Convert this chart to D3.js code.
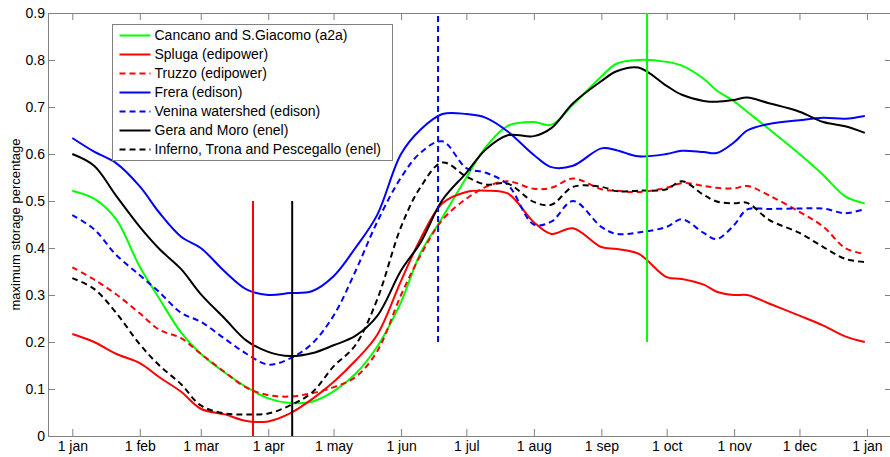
<!DOCTYPE html>
<html>
<head>
<meta charset="utf-8" />
<title>maximum storage percentage</title>
<style>
body { margin: 0; background: #fff; }
svg text { font-family: "Liberation Sans", Arial, sans-serif; }
</style>
</head>
<body>
<div id="graph"></div>
<script src="https://d3js.org/d3.v7.min.js"></script>
<script>

// day of year for each sample
var days = [0,10,20,31,40,50,59,70,80,90,100,110,120,130,140,151,160,170,181,190,200,212,220,230,243,250,260,273,280,290,296,304,310,320,334,345,355,364];

var cancano = [0.522,0.505,0.462,0.360,0.292,0.220,0.175,0.135,0.104,0.080,0.070,0.073,0.095,0.132,0.190,0.285,0.390,0.465,0.550,0.615,0.660,0.668,0.662,0.705,0.765,0.792,0.800,0.796,0.788,0.760,0.735,0.712,0.690,0.653,0.600,0.555,0.510,0.495];
var spluga  = [0.217,0.200,0.175,0.155,0.125,0.094,0.058,0.046,0.032,0.031,0.048,0.078,0.115,0.160,0.215,0.330,0.420,0.495,0.519,0.522,0.516,0.455,0.430,0.442,0.402,0.398,0.388,0.338,0.334,0.322,0.307,0.300,0.300,0.282,0.256,0.235,0.212,0.200];
var truzzo  = [0.359,0.333,0.302,0.261,0.226,0.208,0.175,0.136,0.103,0.087,0.084,0.091,0.104,0.125,0.180,0.300,0.385,0.460,0.505,0.530,0.542,0.526,0.528,0.548,0.525,0.522,0.519,0.528,0.538,0.532,0.528,0.527,0.532,0.512,0.477,0.445,0.400,0.387];
var frera   = [0.634,0.605,0.581,0.531,0.475,0.424,0.400,0.350,0.312,0.300,0.304,0.308,0.340,0.400,0.470,0.600,0.652,0.685,0.685,0.677,0.648,0.598,0.572,0.575,0.612,0.608,0.595,0.600,0.607,0.604,0.602,0.625,0.650,0.664,0.672,0.677,0.675,0.681];
var venina  = [0.470,0.440,0.386,0.342,0.306,0.262,0.243,0.207,0.175,0.152,0.165,0.196,0.256,0.350,0.455,0.550,0.603,0.627,0.570,0.560,0.535,0.450,0.456,0.500,0.445,0.430,0.433,0.445,0.461,0.432,0.419,0.449,0.482,0.483,0.484,0.484,0.474,0.483];
var gera    = [0.600,0.575,0.512,0.445,0.398,0.355,0.302,0.250,0.203,0.179,0.170,0.176,0.193,0.213,0.255,0.352,0.412,0.502,0.560,0.610,0.640,0.638,0.655,0.708,0.755,0.776,0.784,0.745,0.726,0.713,0.711,0.715,0.720,0.708,0.690,0.668,0.659,0.645];
var inferno = [0.336,0.313,0.263,0.195,0.150,0.110,0.065,0.048,0.046,0.048,0.065,0.092,0.148,0.193,0.290,0.445,0.530,0.582,0.552,0.535,0.537,0.498,0.492,0.530,0.530,0.521,0.522,0.525,0.542,0.513,0.499,0.495,0.496,0.460,0.432,0.402,0.377,0.370];

var names = ["Cancano and S.Giacomo (a2a)", "Spluga (edipower)", "Truzzo (edipower)", "Frera (edison)",
             "Venina watershed (edison)", "Gera and Moro (enel)", "Inferno, Trona and Pescegallo (enel)"];
var colors = ["#00ff00", "#ff0000", "#ff0000", "#0000ff", "#0000ff", "#000000", "#000000"];
var dashed = [false, false, true, false, true, false, true];
var series = [cancano, spluga, truzzo, frera, venina, gera, inferno];

// vertical markers: day, from, to
var markDays  = [83, 101, 168, 264];
var markFrom  = [0, 0, 0.2, 0.2];
var markTo    = [0.5, 0.5, 0.9, 0.9];
var markColor = ["#ff0000", "#000000", "#0000ff", "#00ff00"];
var markDash  = [false, false, true, false];

var monthDays   = [0,31,59,90,120,151,181,212,243,273,304,334,365];
var monthLabels = ["1 jan","1 feb","1 mar","1 apr","1 may","1 jun","1 jul","1 aug","1 sep","1 oct","1 nov","1 dec","1 jan"];
var yTicks = [0,0.1,0.2,0.3,0.4,0.5,0.6,0.7,0.8,0.9];

drawChart("#graph");

function drawChart(tag) {
    var width = 890, height = 457;
    var mLeft = 48, mRight = 892, mTop = 13, mBottom = 436;
    var axisColor = "#808080";

    var x = d3.scaleLinear().domain([-11.16, 376.5]).range([mLeft, mRight]);
    var y = d3.scaleLinear().domain([0, 0.9]).range([mBottom, mTop]);

    var svg = d3.select(tag).append("svg")
        .attr("width", width)
        .attr("height", height);

    // box axes, ticks pointing inward
    var xb = svg.append("g").attr("transform", "translate(0," + mBottom + ")")
        .call(d3.axisBottom(x).tickValues(monthDays).tickFormat((d, i) => monthLabels[i]).tickSizeInner(-7).tickSizeOuter(0).tickPadding(5));
    var xt = svg.append("g").attr("transform", "translate(0," + mTop + ")")
        .call(d3.axisTop(x).tickValues(monthDays).tickFormat("").tickSizeInner(-7).tickSizeOuter(0));
    var yl = svg.append("g").attr("transform", "translate(" + mLeft + ",0)")
        .call(d3.axisLeft(y).tickValues(yTicks).tickFormat(d => d === 0 ? "0" : d3.format(".1f")(d)).tickSizeInner(-7).tickSizeOuter(0).tickPadding(3));
    var yr = svg.append("g").attr("transform", "translate(" + mRight + ",0)")
        .call(d3.axisRight(y).tickValues(yTicks).tickFormat("").tickSizeInner(-7).tickSizeOuter(0));

    [xb, xt, yl, yr].forEach(function(g) {
        g.selectAll("path, line").attr("stroke", axisColor);
        g.selectAll("text").attr("fill", "#000").style("font-size", "14px");
    });

    svg.append("text")
        .attr("transform", "translate(20," + ((mTop + mBottom) / 2) + ") rotate(-90)")
        .attr("text-anchor", "middle")
        .style("font-size", "13px")
        .text("maximum storage percentage");

    var line = d3.line()
        .x((d, i) => x(days[i]))
        .y(d => y(d))
        .curve(d3.curveCatmullRom.alpha(0.5));

    series.forEach(function(vals, k) {
        svg.append("path")
            .datum(vals)
            .attr("d", line)
            .attr("fill", "none")
            .attr("stroke", colors[k])
            .attr("stroke-width", 2)
            .attr("stroke-dasharray", dashed[k] ? "6,4" : null);
    });

    markDays.forEach(function(d, k) {
        svg.append("line")
            .attr("x1", x(d)).attr("x2", x(d))
            .attr("y1", y(markFrom[k])).attr("y2", y(markTo[k]))
            .attr("stroke", markColor[k])
            .attr("stroke-width", 2)
            .attr("stroke-dasharray", markDash[k] ? "6,4" : null);
    });

    // legend
    var lg = svg.append("g").attr("transform", "translate(112.5,24.5)");
    lg.append("rect")
        .attr("width", 280).attr("height", 136)
        .attr("fill", "#fff")
        .attr("stroke", axisColor);

    var rows = lg.selectAll(".key")
        .data(names)
        .enter().append("g")
        .attr("class", "key")
        .attr("transform", (d, i) => "translate(0," + (11 + i * 19) + ")");

    rows.append("line")
        .attr("x1", 7).attr("x2", 38)
        .attr("stroke", (d, i) => colors[i])
        .attr("stroke-width", 2)
        .attr("stroke-dasharray", (d, i) => dashed[i] ? "6,4" : null);

    rows.append("text")
        .attr("x", 42)
        .attr("dy", "0.35em")
        .style("font-size", "14px")
        .text(d => d);
}

</script>
</body>
</html>
